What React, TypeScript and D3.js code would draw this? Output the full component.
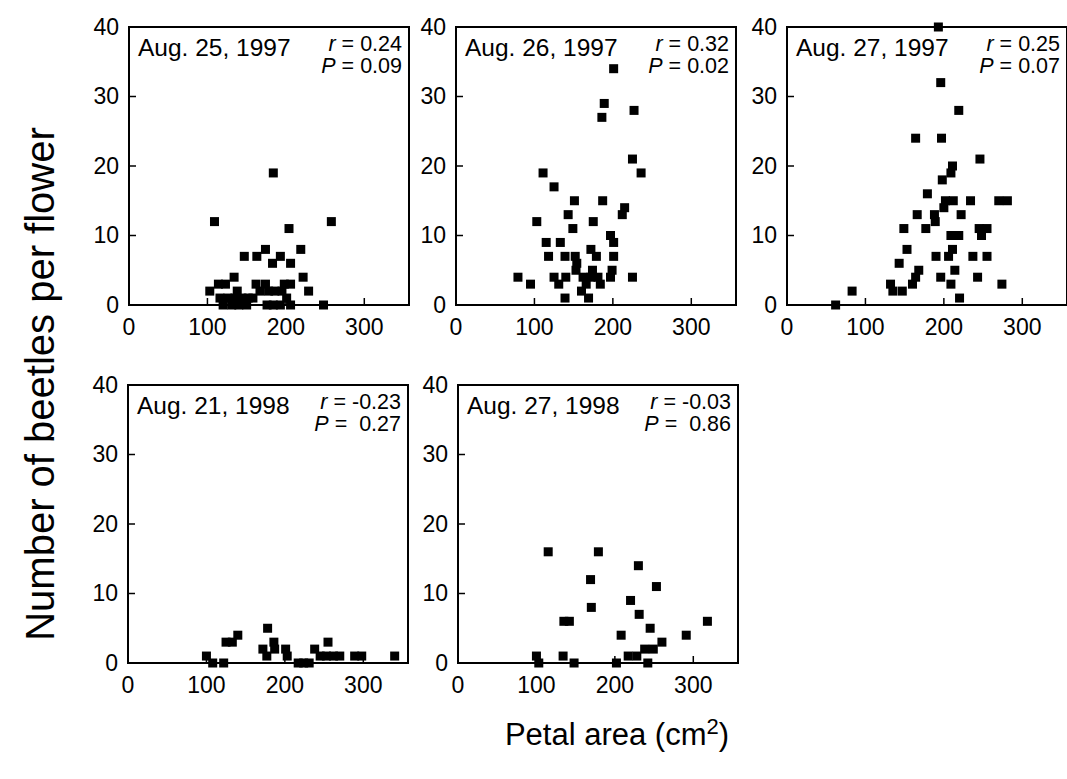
import React from 'react';
import * as d3 from 'd3';

// petal area (cm2), beetles per flower
const aug25_1997: [number, number][] = [
  [109, 12], [184, 19], [258, 12], [204, 11], [174, 8], [147, 7], [163, 7], [193, 7],
  [183, 6], [206, 6], [219, 8], [134, 4], [114, 3], [123, 3], [103, 2], [162, 3],
  [174, 3], [198, 3], [206, 3], [222, 4], [229, 2], [248, 0], [116, 1], [126, 1],
  [135, 1], [144, 1], [152, 1], [120, 0], [131, 0], [140, 0], [150, 0], [138, 2],
  [167, 2], [178, 2], [186, 2], [195, 2], [201, 1], [176, 0], [184, 0], [193, 0],
  [206, 0], [158, 1],
];

const aug26_1997: [number, number][] = [
  [201, 34], [189, 29], [186, 27], [227, 28], [225, 21], [236, 19], [111, 19], [125, 17],
  [151, 15], [187, 15], [215, 14], [212, 13], [143, 13], [103, 12], [175, 12], [149, 11],
  [197, 10], [115, 9], [133, 9], [201, 9], [172, 8], [118, 7], [139, 7], [152, 7],
  [179, 7], [201, 7], [154, 6], [153, 5], [174, 5], [199, 5], [79, 4], [95, 3],
  [125, 4], [140, 4], [131, 3], [162, 4], [172, 4], [181, 4], [197, 4], [225, 4],
  [166, 3], [184, 3], [160, 2], [139, 1], [169, 1],
];

const aug27_1997: [number, number][] = [
  [193, 40], [196, 32], [219, 28], [164, 24], [197, 24], [246, 21], [211, 20], [209, 19],
  [198, 18], [179, 16], [202, 15], [212, 15], [234, 15], [270, 15], [281, 15], [200, 14],
  [166, 13], [188, 13], [222, 13], [189, 12], [149, 11], [177, 11], [245, 11], [255, 11],
  [248, 10], [209, 10], [219, 10], [153, 8], [211, 8], [190, 7], [206, 7], [237, 7],
  [255, 7], [143, 6], [168, 5], [164, 4], [214, 5], [196, 4], [243, 4], [132, 3],
  [160, 3], [209, 3], [274, 3], [83, 2], [135, 2], [147, 2], [220, 1], [62, 0],
];

const aug21_1998: [number, number][] = [
  [100, 1], [108, 0], [122, 0], [125, 3], [133, 3], [140, 4], [178, 5], [172, 2],
  [177, 1], [186, 3], [187, 2], [201, 2], [203, 1], [217, 0], [224, 0], [231, 0],
  [238, 2], [255, 3], [245, 1], [253, 1], [262, 1], [270, 1], [289, 1], [298, 1],
  [340, 1],
];

const aug27_1998: [number, number][] = [
  [115, 16], [179, 16], [230, 14], [169, 12], [253, 11], [220, 9], [170, 8], [231, 7],
  [135, 6], [142, 6], [245, 5], [208, 4], [291, 4], [318, 6], [260, 3], [238, 2],
  [249, 2], [217, 1], [228, 1], [100, 1], [134, 1], [103, 0], [148, 0], [202, 0],
  [242, 0],
];

const panelDates = ['Aug. 25, 1997', 'Aug. 26, 1997', 'Aug. 27, 1997', 'Aug. 21, 1998', 'Aug. 27, 1998'];
const panelR = ['0.24', '0.32', '0.25', '-0.23', '-0.03'];
const panelP = ['0.09', '0.02', '0.07', ' 0.27', ' 0.86'];
const panelData = [aug25_1997, aug26_1997, aug27_1997, aug21_1998, aug27_1998];
const xTicks = [0, 100, 200, 300];
const yTicks = [0, 10, 20, 30, 40];

// layout of the five panels
const panelBox = [
  { left: 129, top: 27 },
  { left: 456, top: 27 },
  { left: 787, top: 27 },
  { left: 128, top: 385 },
  { left: 458, top: 385 },
];
const PW = 280;
const PH = 278;
const FONT = '"Liberation Sans", Arial, Helvetica, sans-serif';

function Panel({ i }: { i: number }) {
  const { left, top } = panelBox[i];
  const x = d3.scaleLinear().domain([0, 357]).range([0, PW]);
  const y = d3.scaleLinear().domain([0, 40]).range([PH, 0]);
  const s = 9;
  return (
    <g transform={`translate(${left},${top})`}>
      <rect x={0} y={0} width={PW} height={PH} fill="none" stroke="#000" strokeWidth={2} />
      {xTicks.map((t) => (
        <g key={'x' + t}>
          {t > 0 && <line x1={x(t)} x2={x(t)} y1={PH} y2={PH - 7} stroke="#000" strokeWidth={1.5} />}
          <text x={x(t)} y={PH + 30} textAnchor="middle" fontSize={23}>{t}</text>
        </g>
      ))}
      {yTicks.map((t) => (
        <g key={'y' + t}>
          {t > 0 && t < 40 && <line x1={0} x2={7} y1={y(t)} y2={y(t)} stroke="#000" strokeWidth={1.5} />}
          <text x={-10} y={y(t)} dy="0.33em" textAnchor="end" fontSize={23}>{t}</text>
        </g>
      ))}
      {panelData[i].map(([a, b], k) => (
        <rect key={k} x={x(a) - s / 2} y={y(b) - s / 2} width={s} height={s} fill="#000" />
      ))}
      <text x={9} y={29} fontSize={24.5}>{panelDates[i]}</text>
      <text x={PW - 7} y={24} textAnchor="end" fontSize={21.5} style={{ whiteSpace: 'pre' }}>
        <tspan fontStyle="italic">r</tspan> = {panelR[i]}
      </text>
      <text x={PW - 7} y={46} textAnchor="end" fontSize={21.5} style={{ whiteSpace: 'pre' }}>
        <tspan fontStyle="italic">P</tspan>{' = ' + panelP[i]}
      </text>
    </g>
  );
}

export default function App() {
  return (
    <svg
      width={1067}
      height={779}
      style={{ position: 'absolute', left: 0, top: 0, background: '#fff' }}
      fontFamily={FONT}
    >
      <rect width={1067} height={779} fill="#fff" />
      {panelData.map((_, i) => (
        <Panel key={i} i={i} />
      ))}
      <text
        transform="translate(54,384) rotate(-90)"
        textAnchor="middle"
        fontSize={40}
      >
        Number of beetles per flower
      </text>
      <text x={617} y={745} textAnchor="middle" fontSize={31}>
        Petal area (cm<tspan fontSize={22} dy={-11}>2</tspan><tspan dy={11}>)</tspan>
      </text>
    </svg>
  );
}
